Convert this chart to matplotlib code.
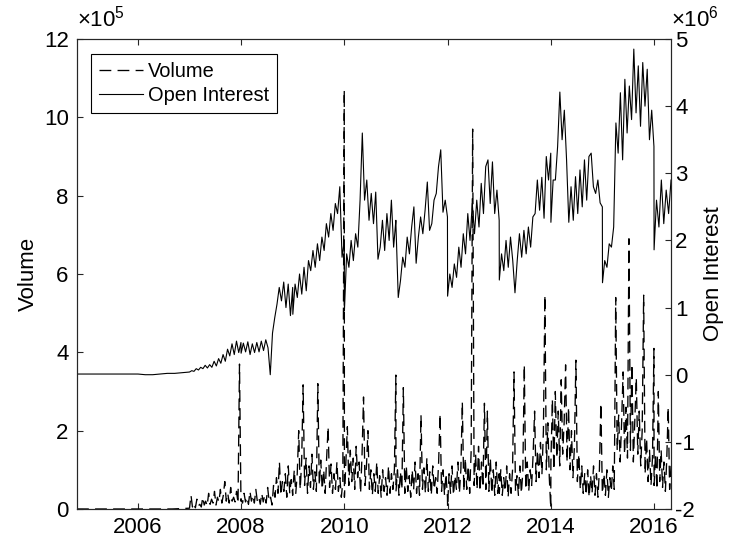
import pandas as pd
import matplotlib
matplotlib.use('Agg')
import matplotlib.pyplot as plt
import matplotlib.dates as mdates
from matplotlib.ticker import FuncFormatter, MultipleLocator

plt.rcParams['font.family'] = ['Liberation Sans', 'DejaVu Sans']
plt.rcParams['mathtext.fontset'] = 'custom'
plt.rcParams['mathtext.rm'] = 'Liberation Sans'
plt.rcParams['lines.scale_dashes'] = False

# open interest (x1e6), two readings per month: low after the roll, high before it
oi_2004 = [0.01, 0.01]
oi_2005 = [0.01, 0.01, 0.01, 0.01]
oi_2006 = [0.01, 0.0, 0.0, 0.01, 0.02, 0.02, 0.03, 0.04]
oi_2007 = [0.04, 0.06, 0.05, 0.09, 0.07, 0.11, 0.09, 0.14, 0.10, 0.15, 0.11, 0.20,
           0.13, 0.24, 0.17, 0.30, 0.20, 0.38, 0.28, 0.46, 0.30, 0.50, 0.33, 0.48]
oi_2008 = [0.32, 0.47, 0.34, 0.49, 0.30, 0.46, 0.33, 0.48, 0.34, 0.50, 0.36, 0.52,
           0.40, 0.0, 0.62, 0.85, 1.05, 1.30, 1.10, 1.38, 1.00, 1.35, 0.88, 1.30]
oi_2009 = [0.90, 1.35, 1.15, 1.50, 1.20, 1.60, 1.25, 1.70, 1.55, 1.85, 1.60, 1.95,
           1.70, 2.05, 1.85, 2.25, 2.05, 2.40, 2.15, 2.55, 2.40, 2.80, 1.75, 2.00]
oi_2010 = [0.95, 1.80, 1.60, 2.00, 1.70, 2.10, 1.90, 2.60, 3.60, 2.60, 2.90, 2.30,
           2.70, 2.25, 2.72, 1.72, 1.90, 2.30, 1.85, 2.40, 2.00, 2.60, 1.90, 2.30]
oi_2011 = [2.20, 1.15, 1.40, 1.75, 1.60, 2.05, 1.80, 2.20, 2.50, 1.66, 2.05, 2.35,
           2.10, 2.45, 2.87, 2.15, 2.25, 2.60, 2.70, 3.10, 3.35, 2.42, 2.60, 2.35]
oi_2012 = [1.17, 1.50, 1.30, 1.65, 1.45, 1.90, 1.60, 2.10, 1.80, 2.40, 2.00, 2.55,
           2.10, 2.60, 2.20, 2.85, 2.40, 3.10, 3.20, 2.55, 3.17, 2.40, 2.75, 2.30]
oi_2013 = [1.41, 1.80, 1.55, 2.00, 1.60, 2.05, 1.70, 1.22, 1.70, 2.10, 1.75, 2.15,
           1.80, 2.20, 1.90, 2.35, 2.40, 2.90, 2.45, 2.94, 2.33, 3.25, 2.90, 3.30]
oi_2014 = [2.27, 2.90, 2.90, 3.40, 4.21, 3.50, 3.94, 3.20, 2.27, 2.80, 2.30, 2.95,
           2.40, 3.05, 2.50, 3.20, 2.60, 3.25, 3.30, 2.80, 2.70, 2.90, 2.56, 2.50]
oi_2015 = [1.37, 1.70, 1.60, 1.95, 1.90, 2.20, 3.75, 3.30, 4.20, 3.20, 4.40, 3.60,
           4.30, 3.80, 4.85, 3.90, 4.60, 3.70, 4.65, 4.00, 4.55, 3.50, 3.94, 3.40]
oi_2016 = [1.86, 2.60, 2.20, 2.90, 2.25, 2.75, 2.40, 2.90]

# volume (x1e5), roughly every ten days
vol_2004 = [0.0, 0.0]
vol_2005 = [0.0, 0.0]
vol_2006 = [0.0, 0.0, 0.0, 0.02]
vol_2007 = [0.02, 0.35, 0.05, 0.15, 0.03, 0.25, 0.08, 0.12, 0.05, 0.30, 0.10, 0.20,
            0.08, 0.40, 0.12, 0.25, 0.15, 0.45, 0.10, 0.30, 0.18, 0.50, 0.15, 0.35,
            0.70, 0.20, 0.40, 0.15, 0.55, 0.20, 0.30, 0.18, 0.45, 0.15, 3.70, 0.20]
vol_2008 = [0.25, 0.15, 0.40, 0.18, 0.30, 0.12, 0.45, 0.20, 0.35, 0.15, 0.50, 0.20,
            0.30, 0.12, 0.40, 0.18, 0.35, 0.15, 0.55, 0.20, 0.30, 0.10, 0.60, 0.30,
            0.80, 0.40, 1.20, 0.35, 0.70, 0.45, 0.90, 0.30, 1.10, 0.40, 0.75, 0.35]
vol_2009 = [0.50, 1.00, 0.40, 0.90, 2.00, 0.50, 1.20, 3.17, 0.60, 1.30, 0.40, 1.10,
            0.55, 1.40, 0.50, 0.95, 0.45, 3.20, 0.60, 1.25, 0.50, 1.00, 0.40, 1.30,
            2.10, 0.55, 1.15, 0.40, 0.90, 0.50, 1.20, 0.45, 0.80, 0.30, 0.70, 10.70]
vol_2010 = [0.30, 1.20, 2.10, 0.60, 1.50, 0.70, 1.30, 0.50, 1.60, 0.80, 1.20, 0.40,
            1.40, 2.86, 0.60, 1.10, 2.00, 0.50, 1.00, 0.35, 0.90, 0.45, 1.20, 0.40,
            0.85, 0.30, 1.00, 0.45, 0.80, 0.35, 1.10, 0.40, 0.90, 0.50, 1.00, 3.42]
vol_2011 = [0.45, 1.00, 0.35, 0.95, 0.50, 3.10, 0.40, 1.10, 0.45, 0.85, 0.30, 1.00,
            0.50, 1.20, 0.40, 0.90, 0.35, 2.40, 0.50, 1.05, 0.40, 1.30, 0.45, 0.95,
            0.35, 1.10, 0.50, 0.80, 0.40, 1.20, 2.43, 0.45, 1.00, 0.35, 0.90, 0.30]
vol_2012 = [0.05, 0.90, 0.40, 1.10, 0.35, 0.85, 0.50, 1.20, 0.40, 1.00, 2.73, 0.45,
            1.30, 0.50, 1.10, 0.40, 1.50, 9.70, 0.60, 1.40, 0.50, 1.60, 0.45, 1.20,
            0.55, 2.70, 0.50, 2.50, 0.45, 1.30, 0.40, 1.00, 0.35, 1.20, 0.40, 0.90]
vol_2013 = [0.40, 1.00, 0.35, 0.80, 0.45, 1.10, 0.30, 0.90, 0.40, 1.00, 3.50, 0.45,
            0.85, 0.35, 1.10, 0.40, 0.95, 3.68, 0.50, 1.20, 0.45, 1.00, 0.60, 1.40,
            2.50, 0.70, 1.50, 0.80, 1.70, 0.90, 2.00, 5.46, 1.00, 2.20, 0.80, 0.02]
vol_2014 = [1.20, 2.80, 1.00, 3.00, 1.30, 2.50, 1.10, 3.30, 1.40, 2.20, 3.68, 1.20,
            2.60, 1.00, 2.00, 0.80, 1.60, 3.80, 0.70, 1.40, 0.50, 1.10, 0.40, 0.90,
            0.35, 1.00, 0.30, 0.85, 0.40, 1.10, 0.35, 0.90, 0.30, 1.00, 2.70, 0.40]
vol_2015 = [0.40, 0.90, 0.35, 1.00, 0.30, 0.80, 0.45, 1.10, 0.50, 5.40, 1.50, 2.40,
            1.20, 2.20, 3.50, 1.40, 2.60, 1.30, 6.90, 1.50, 3.70, 1.20, 2.30, 3.35,
            1.40, 2.50, 1.10, 2.00, 5.46, 0.90, 1.80, 0.70, 1.50, 0.60, 1.30, 4.10]
vol_2016 = [0.60, 1.40, 0.50, 3.00, 0.70, 1.50, 0.55, 1.20, 0.45, 1.30, 2.60, 0.50, 1.10]

first_day = '2004-10-27'
last_day = '2016-04-30'


def spread(year, vals):
    # place a year's readings evenly over the part of the year covered
    start = first_day if year == 2004 else f'{year}-01-01'
    end = last_day if year == 2016 else f'{year}-12-31'
    return pd.date_range(start, end, periods=len(vals))


years = list(range(2004, 2017))
oi_years = [oi_2004, oi_2005, oi_2006, oi_2007, oi_2008, oi_2009, oi_2010,
            oi_2011, oi_2012, oi_2013, oi_2014, oi_2015, oi_2016]
vol_years = [vol_2004, vol_2005, vol_2006, vol_2007, vol_2008, vol_2009, vol_2010,
             vol_2011, vol_2012, vol_2013, vol_2014, vol_2015, vol_2016]

oi = pd.Series(dtype=float)
vol = pd.Series(dtype=float)
for yr, o, v in zip(years, oi_years, vol_years):
    oi = pd.concat([oi, pd.Series(o, index=spread(yr, o)) * 1e6])
    vol = pd.concat([vol, pd.Series(v, index=spread(yr, v)) * 1e5])

fig = plt.figure(figsize=(7.37, 5.48), dpi=100)
ax = fig.add_axes([0.1045, 0.0712, 0.806, 0.8576])
ax2 = ax.twinx()
ax2.set_position([0.1045, 0.0712, 0.806, 0.8576])

edge = '#262626'
l1, = ax.plot(vol.index, vol.values, color='black', lw=0.95,
              linestyle=(0, (8.5, 4.5)), label='Volume')
l2, = ax2.plot(oi.index, oi.values, color='black', lw=0.8, label='Open Interest')

ax.set_xlim(pd.Timestamp(first_day), pd.Timestamp(last_day))
ax.set_ylim(0, 12e5)
ax2.set_ylim(-2e6, 5e6)
ax.yaxis.set_major_locator(MultipleLocator(2e5))
ax2.yaxis.set_major_locator(MultipleLocator(1e6))
ax.yaxis.set_major_formatter(FuncFormatter(lambda v, p: f'{v / 1e5:g}'))
ax2.yaxis.set_major_formatter(FuncFormatter(lambda v, p: f'{v / 1e6:g}'))
ax.xaxis.set_major_locator(mdates.YearLocator(2))
ax.xaxis.set_major_formatter(mdates.DateFormatter('%Y'))

for a in (ax, ax2):
    for s in a.spines.values():
        s.set_color(edge)
        s.set_linewidth(0.8)
ax.tick_params(axis='x', direction='in', top=True, length=4.5, width=0.8,
               color=edge, labelsize=16, pad=6)
ax.tick_params(axis='y', direction='in', length=4.5, width=0.8, color=edge,
               labelsize=16, pad=6)
ax2.tick_params(axis='y', direction='in', length=4.5, width=0.8, color=edge,
                labelsize=16, pad=3)

ax.set_ylabel('Volume', fontsize=16)
ax2.set_ylabel('Open Interest', fontsize=16)
ax.yaxis.set_label_coords(-0.064, 0.5)
ax2.yaxis.set_label_coords(1.054, 0.5)

ax.text(0.0, 1.016, r'$\times10^{5}$', transform=ax.transAxes, ha='left',
        va='bottom', fontsize=16)
ax2.text(1.0, 1.016, r'$\times10^{6}$', transform=ax2.transAxes, ha='left',
         va='bottom', fontsize=16)

leg = ax2.legend([l1, l2], ['Volume', 'Open Interest'], loc='upper left',
                 bbox_to_anchor=(0.0236, 0.968), borderaxespad=0, fontsize=14.4,
                 fancybox=False, framealpha=1, edgecolor='black',
                 handlelength=2.2, handletextpad=0.25, labelspacing=0.25,
                 borderpad=0.4)
leg.get_frame().set_linewidth(0.8)

plt.savefig('out.png', dpi=100)
